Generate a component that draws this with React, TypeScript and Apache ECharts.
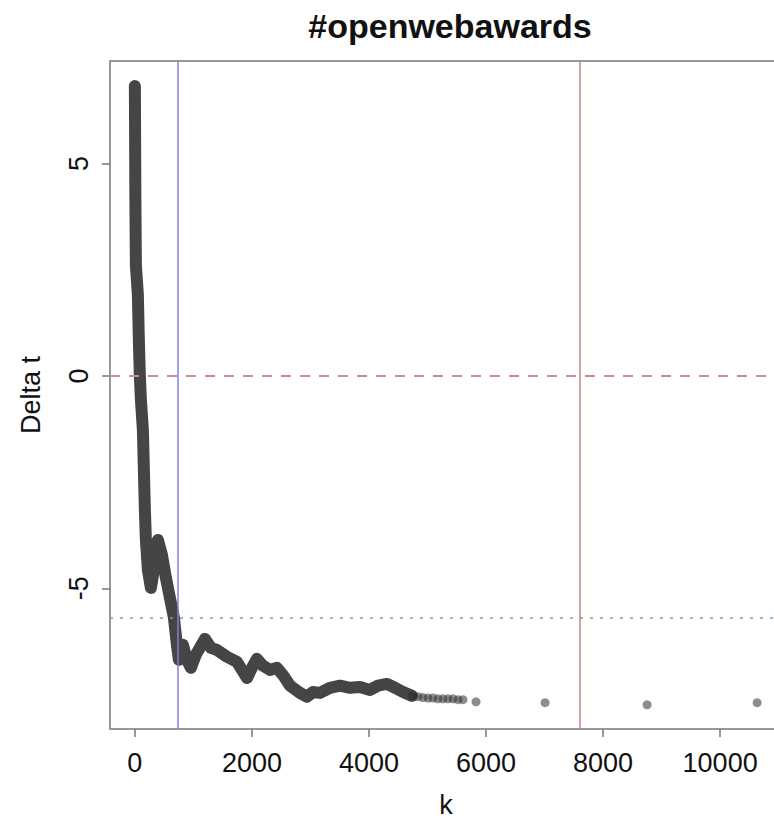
import React, { useEffect, useRef } from "react";
import * as echarts from "echarts";

// Running trace of Delta t against k (dense part of the sample)
const pathK = [
  0, 9, 17, 51, 68, 85, 103, 137, 154, 171, 188, 222, 274, 325, 393, 462, 530, 598,
  667, 718, 752, 821, 889, 957, 1043, 1197, 1299, 1402, 1573, 1744, 1829, 1915, 2000,
  2085, 2188, 2308, 2427, 2530, 2650, 2821, 2940, 3043, 3162, 3333, 3504, 3675, 3846,
  4017, 4154, 4308, 4444, 4581, 4735,
];
const pathDelta = [
  6.82, 4.14, 2.61, 1.91, 0.85, 0, -0.56, -1.27, -2.21, -3.15, -3.86, -4.56, -4.99,
  -4.56, -3.86, -4.21, -4.75, -5.22, -5.69, -6.33, -6.68, -6.33, -6.68, -6.87, -6.56,
  -6.19, -6.4, -6.45, -6.61, -6.73, -6.92, -7.11, -6.87, -6.66, -6.82, -6.92, -6.87,
  -7.04, -7.29, -7.46, -7.55, -7.44, -7.46, -7.34, -7.29, -7.34, -7.32, -7.39, -7.29,
  -7.25, -7.34, -7.44, -7.53,
];

// Sparse tail: individual observations
const tailK = [4735, 4838, 4923, 5009, 5094, 5179, 5265, 5350, 5436, 5521, 5607, 5829, 7009, 8752, 10632];
const tailDelta = [-7.53, -7.55, -7.57, -7.58, -7.58, -7.6, -7.6, -7.6, -7.6, -7.62, -7.62, -7.67, -7.69, -7.74, -7.69];

const xTicks = [0, 2000, 4000, 6000, 8000, 10000];
const yTicks = [-5, 0, 5];

// Reference lines
const kMarker = 730;
const kCutoff = 7607;
const deltaZero = 0;
const deltaFloor = -5.69;

const FONT = '"Liberation Sans", Arial, Helvetica, sans-serif';

export default function App() {
  const ref = useRef<HTMLDivElement>(null);

  useEffect(() => {
    if (!ref.current) return;
    const chart = echarts.init(ref.current, null, { renderer: "svg" });
    chart.setOption({
      animation: false,
      backgroundColor: "#ffffff",
      title: {
        text: "#openwebawards",
        left: 445,
        top: 4,
        textAlign: "center",
        textStyle: { fontFamily: FONT, fontSize: 34, fontWeight: "bold", color: "#111" },
      },
      grid: {
        left: 110,
        top: 61,
        width: 672,
        height: 668,
        show: true,
        borderColor: "#777",
        borderWidth: 1.5,
        backgroundColor: "transparent",
        outerBoundsMode: "none",
        containLabel: false,
      },
      xAxis: {
        type: "value",
        min: -425,
        max: 11057,
        name: "k",
        nameLocation: "middle",
        nameGap: 62,
        nameTextStyle: { fontFamily: FONT, fontSize: 27, color: "#111" },
        axisLine: { show: false, onZero: false },
        splitLine: { show: false },
        axisTick: {
          show: true,
          length: 8,
          customValues: xTicks,
          lineStyle: { color: "#777", width: 1.5 },
        },
        axisLabel: {
          customValues: xTicks,
          formatter: (v: number) => String(v),
          margin: 20,
          fontFamily: FONT,
          fontSize: 27,
          color: "#111",
        },
      },
      yAxis: {
        type: "value",
        min: -8.31,
        max: 7.41,
        name: "Delta t",
        nameLocation: "middle",
        nameRotate: 90,
        nameGap: 66,
        nameTextStyle: { fontFamily: FONT, fontSize: 27, color: "#111" },
        axisLine: { show: false, onZero: false },
        splitLine: { show: false },
        axisTick: {
          show: true,
          length: 8,
          customValues: yTicks,
          lineStyle: { color: "#777", width: 1.5 },
        },
        axisLabel: {
          customValues: yTicks,
          formatter: (v: number) => String(v),
          rotate: 90,
          margin: 18,
          fontFamily: FONT,
          fontSize: 27,
          color: "#111",
        },
      },
      series: [
        {
          type: "line",
          name: "trace",
          data: pathK.map((k, i) => [k, pathDelta[i]]),
          showSymbol: false,
          symbol: "none",
          silent: true,
          lineStyle: { color: "#454545", width: 12, cap: "round", join: "round" },
          z: 2,
        },
        {
          type: "scatter",
          name: "tail",
          data: tailK.map((k, i) => [k, tailDelta[i]]),
          symbolSize: 9,
          silent: true,
          itemStyle: { color: "rgba(45,45,45,0.68)" },
          z: 3,
        },
        {
          type: "line",
          name: "refs",
          data: [],
          silent: true,
          z: 5,
          markLine: {
            silent: true,
            symbol: "none",
            label: { show: false },
            animation: false,
            data: [
              { xAxis: kMarker, lineStyle: { color: "#7f7fd8", width: 1.5, type: "solid" } },
              { xAxis: kCutoff, lineStyle: { color: "#c98585", width: 1.5, type: "solid" } },
              { yAxis: deltaZero, lineStyle: { color: "#c99090", width: 2, type: [10, 9] } },
              { yAxis: deltaFloor, lineStyle: { color: "#6fb06f", width: 1.5, type: [3, 7] } },
            ],
          },
        },
      ],
    });
    return () => chart.dispose();
  }, []);

  return (
    <div
      ref={ref}
      style={{ position: "absolute", left: 0, top: 0, width: 774, height: 822 }}
    />
  );
}
